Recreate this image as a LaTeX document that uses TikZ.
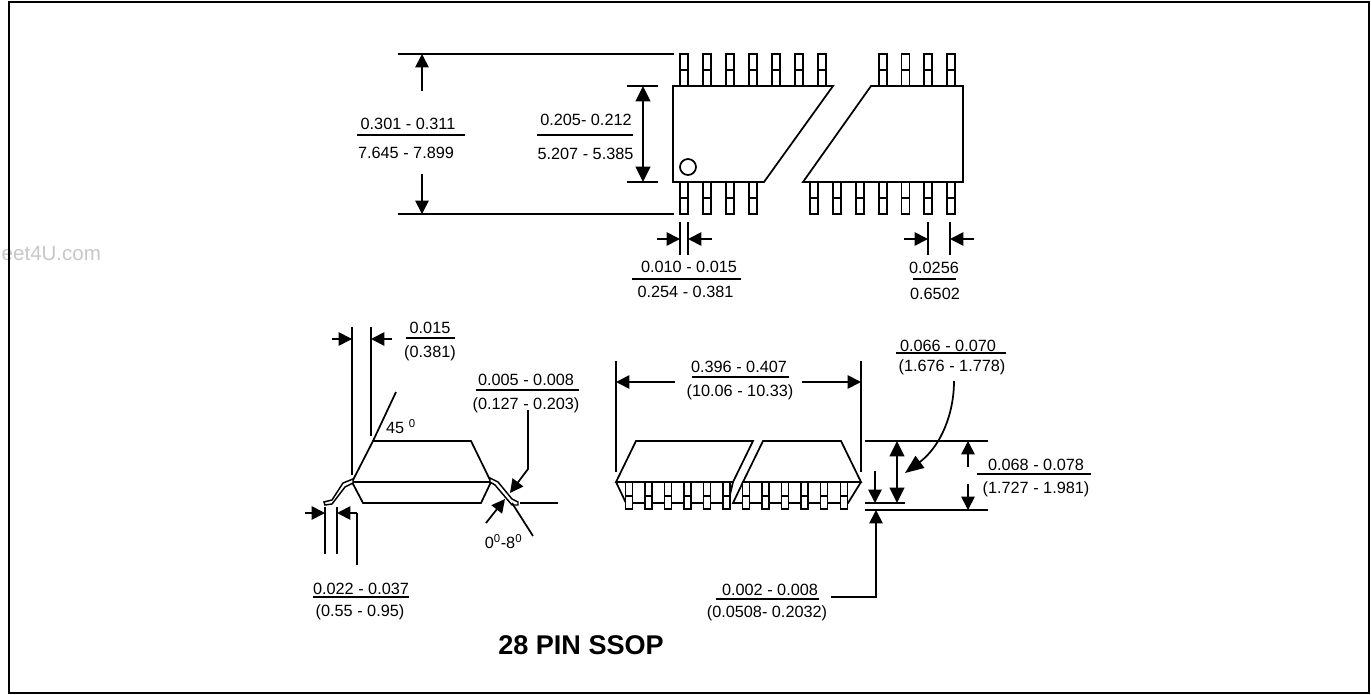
\documentclass[tikz,border=0pt]{standalone}
\usepackage{fontspec}
\setmainfont{Liberation Sans}
\usetikzlibrary{arrows.meta}
\begin{document}
\begin{tikzpicture}[
  x = 0.75pt,
  y = -0.75pt,
  > = {Triangle[length = 10pt, width = 10pt]},
  bighead/.style = {
    > = {Triangle[length = 11.5pt, width = 11pt]}
  },
  hugehead/.style = {
    > = {Triangle[length = 14pt, width = 11pt]}
  },
  dimtext/.style = {
    font = \fontsize{12.2}{14}\selectfont,
    anchor = base,
    inner sep = 0pt,
    outer sep = 0pt
  },
  pin/.style = {
    draw,
    fill = white
  },
  every path/.style = {
    line width = 1.3pt
  }
]
  \useasboundingbox (0, 0) rectangle (1371, 695);

  \node[dimtext, anchor = base east, text = black!22, font = \fontsize{15.4}{18}\selectfont] (mark) at (101, 261) {eet4U.com};
  \draw[line width = 1.5pt] (8.5, 2) rectangle (1369, 693);

  \coordinate (p1) at (673, 86);
  \coordinate (p2) at (833, 86);
  \coordinate (p3) at (764, 182);
  \coordinate (p4) at (673, 182);
  \coordinate (p5) at (871, 86);
  \coordinate (p6) at (963, 86);
  \coordinate (p7) at (963, 182);
  \coordinate (p8) at (803, 182);

  \foreach \px in {684, 707, 730, 753, 776, 799, 822, 883, 905.5, 928, 951} {
    \draw (\px - 4, 86) rectangle (\px + 4, 54);
    \draw (\px - 4, 70) -- (\px + 4, 70);
  }
  \foreach \px in {684, 707, 730, 753, 814, 837, 860, 883, 905.5, 928, 951} {
    \draw (\px - 4, 182) rectangle (\px + 4, 214);
    \draw (\px - 4, 198) -- (\px + 4, 198);
  }
  \draw (p1) -- (p2) -- (p3) -- (p4) -- cycle;
  \draw (p5) -- (p6) -- (p7) -- (p8) -- cycle;
  \draw (688, 167) circle (8);

  \coordinate (q1) at (398, 54);
  \coordinate (q2) at (674, 54);
  \coordinate (q3) at (398, 214);
  \coordinate (q4) at (674, 214);
  \draw (q1) -- (q2);
  \draw (q3) -- (q4);
  \draw[->] (422, 91) -- (422, 54);
  \draw[->] (422, 174) -- (422, 214);
  \node[dimtext] (w1) at (408, 130) {0.301 - 0.311};
  \node[dimtext] (w2) at (406, 159) {7.645 - 7.899};
  \draw (357, 135) -- (465, 135);

  \draw (627, 86) -- (658, 86);
  \draw (627, 182) -- (658, 182);
  \draw[<->, bighead] (643, 86) -- (643, 182);
  \node[dimtext] (h1) at (586, 126) {0.205- 0.212};
  \node[dimtext] (h2) at (585.5, 160) {5.207 - 5.385};
  \draw (537, 135) -- (633, 135);

  \draw (680, 222) -- (680, 255);
  \draw (688, 222) -- (688, 255);
  \draw[->] (657, 239) -- (680, 239);
  \draw[->] (712, 239) -- (688, 239);
  \node[dimtext] (b1) at (689, 273) {0.010 - 0.015};
  \node[dimtext] (b2) at (685.5, 298) {0.254 - 0.381};
  \draw (632, 279) -- (741, 279);

  \draw (928, 222) -- (928, 255);
  \draw (950, 222) -- (950, 255);
  \draw[->] (904, 239) -- (928, 239);
  \draw[->] (974, 239) -- (950, 239);
  \node[dimtext] (e1) at (934, 274) {0.0256};
  \node[dimtext] (e2) at (935, 300) {0.6502};
  \draw (913, 279) -- (956, 279);

  \coordinate (s1) at (373, 441);
  \coordinate (s2) at (471, 441);
  \coordinate (s3) at (491, 482);
  \coordinate (s4) at (481, 503);
  \coordinate (s5) at (363, 503);
  \coordinate (s6) at (352, 482);
  \draw (s1) -- (s2) -- (s3) -- (s4) -- (s5) -- (s6) -- cycle;
  \draw (s6) -- (s3);
  \draw (s1) -- (396, 392);
  \draw[fill = white, line width = 1.1pt] (353, 479) -- (343, 483) -- (332, 500) -- (324, 502) -- (325, 505) -- (332, 504) -- (345, 487) -- (353, 483) -- cycle;
  \draw[fill = white, line width = 1.1pt] (490, 478) -- (498, 482) -- (512, 499) -- (518, 502) -- (518, 505) -- (512, 505) -- (495, 485) -- (490, 482) -- cycle;
  \draw (520, 503) -- (558, 503);
  \draw (512, 503) -- (533, 536);

  \draw (352, 327) -- (352, 475);
  \draw (371, 327) -- (371, 436);
  \draw[->] (332, 339) -- (352, 339);
  \draw[->] (392, 339) -- (371, 339);
  \node[dimtext] (f1) at (430, 334) {0.015};
  \node[dimtext] (f2) at (430, 358) {(0.381)};
  \draw (406, 338) -- (455, 338);

  \node[dimtext] (g1) at (526, 385) {0.005 - 0.008};
  \node[dimtext] (g2) at (526, 409) {(0.127 - 0.203)};
  \draw (476, 390) -- (579, 390);
  \coordinate (g3) at (528, 469);
  \coordinate (g4) at (510, 493);
  \draw[->] (528, 410) -- (g3) -- (g4);
  \draw[->] (486, 523) -- (505, 499);
  \node[dimtext] (k1) at (401, 433) {45 \textsuperscript{0}};
  \node[dimtext] (k2) at (503.5, 548) {0\textsuperscript{0}-8\textsuperscript{0}};

  \draw (325, 507) -- (325, 554);
  \draw (337, 507) -- (337, 554);
  \draw[->] (305, 513) -- (325, 513);
  \coordinate (m1) at (357, 513);
  \draw (357, 565) -- (m1);
  \draw[->] (m1) -- (337, 513);
  \node[dimtext] (m2) at (361, 594) {0.022 - 0.037};
  \node[dimtext] (m3) at (360, 616) {(0.55 - 0.95)};
  \draw (313, 597) -- (409, 597);

  \node[dimtext, font = \bfseries\fontsize{20.3}{24}\selectfont] (title) at (581, 654) {28 PIN SSOP};

  \coordinate (r1) at (636, 441);
  \coordinate (r2) at (753, 441);
  \coordinate (r3) at (733, 482);
  \coordinate (r4) at (616, 482);
  \coordinate (r5) at (626, 503);
  \coordinate (r6) at (728, 503);
  \coordinate (r7) at (763, 441);
  \coordinate (r8) at (841, 441);
  \coordinate (r9) at (861, 482);
  \coordinate (r10) at (743, 482);
  \coordinate (r11) at (733, 503);
  \coordinate (r12) at (848, 503);
  \draw (r1) -- (r2) -- (r3) -- (r4) -- cycle;
  \draw (r7) -- (r8) -- (r9) -- (r10) -- cycle;
  \draw (r4) -- (r5) -- (r6) -- (r3);
  \draw (r10) -- (r11) -- (r12) -- (r9);
  \foreach \px in {629, 648.3, 668, 687.3, 707, 726.7, 746, 765.7, 785, 804.3, 824, 844} {
    \draw[pin] (\px - 3.5, 482) rectangle (\px + 3.5, 509);
    \draw (\px - 3.5, 496) -- (\px + 3.5, 496);
  }

  \draw (616, 361) -- (616, 472);
  \draw (861, 361) -- (861, 472);
  \draw[->] (675, 382) -- (616, 382);
  \draw[->] (802, 382) -- (861, 382);
  \node[dimtext] (n1) at (739, 373) {0.396 - 0.407};
  \node[dimtext] (n2) at (740, 396) {(10.06 - 10.33)};
  \draw (692, 377) -- (789, 377);

  \draw (865, 441) -- (988, 441);
  \draw (865, 510) -- (988, 510);
  \draw (865, 503) -- (905, 503);
  \draw[<->, bighead] (897, 441) -- (897, 503);
  \draw[->] (875, 471) -- (875, 503);
  \draw[->] (968, 467) -- (968, 441);
  \draw[->] (968, 484) -- (968, 510);
  \node[dimtext] (u1) at (1036, 470) {0.068 - 0.078};
  \node[dimtext] (u2) at (1036, 493) {(1.727 - 1.981)};
  \draw (977, 474) -- (1091, 474);

  \node[dimtext] (v1) at (948, 352) {0.066 - 0.070};
  \node[dimtext] (v2) at (952, 371) {(1.676 - 1.778)};
  \draw (896, 353) -- (1006, 353);
  \coordinate (v3) at (954, 381);
  \coordinate (v4) at (905, 473);
  \draw[->, hugehead] (v3) .. controls (954, 415) and (940, 447) .. (v4);

  \node[dimtext] (z1) at (770, 595) {0.002 - 0.008};
  \node[dimtext] (z2) at (767, 617) {(0.0508- 0.2032)};
  \draw (716, 599) -- (819, 599);
  \coordinate (z3) at (831, 597);
  \coordinate (z4) at (876, 597);
  \coordinate (z5) at (876, 510);
  \draw[->] (z3) -- (z4) -- (z5);
\end{tikzpicture}
\end{document}
